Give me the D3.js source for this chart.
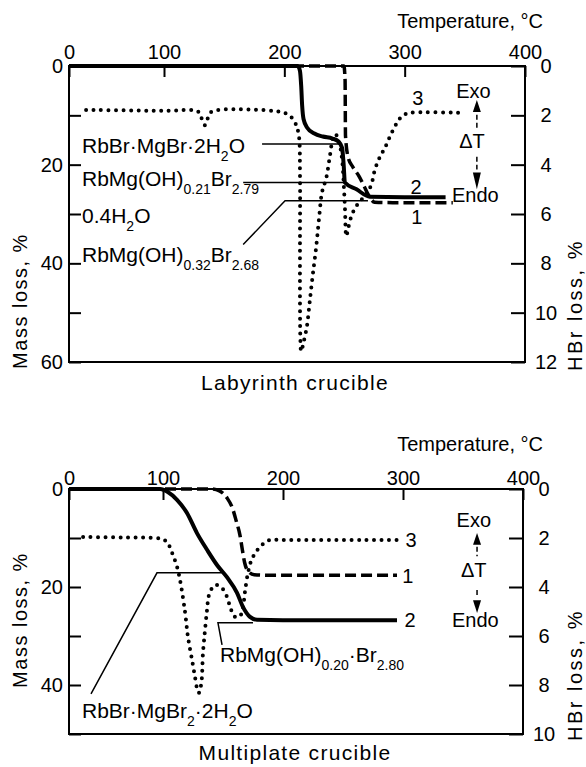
<!DOCTYPE html>
<html>
<head>
<meta charset="utf-8">
<script src="https://cdn.jsdelivr.net/npm/d3@7"></script>
<style>
    body { margin: 0; background: #fff; }
    svg text { font-family: "Liberation Sans", Arial, sans-serif; fill: #000; }
    .frame { fill: none; stroke: #000; stroke-width: 2; }
    .axis path.domain { display: none; }
    .axis line { stroke: #000; stroke-width: 2; }
    .axis text { font-size: 20px; }
    .tg1 { fill: none; stroke: #000; stroke-width: 3.5; stroke-dasharray: 11 5; }
    .tg2 { fill: none; stroke: #000; stroke-width: 4; }
    .dta { fill: none; stroke: #000; stroke-width: 4; stroke-dasharray: 0 7.5; stroke-linecap: round; }
    .leader { fill: none; stroke: #000; stroke-width: 1.5; }
    .arrowdash { stroke: #000; stroke-width: 1.5; stroke-dasharray: 5 3; }
</style>
</head>
<body>
<div class="chart"></div>
<script>
const tempTicks = [0, 100, 200, 300, 400]
const labMassTicks = [0, 10, 20, 30, 40, 50, 60]
const labHbrTicks = [0, 2, 4, 6, 8, 10, 12]
const multiMassTicks = [0, 10, 20, 30, 40, 50]
const multiHbrTicks = [0, 2, 4, 6, 8, 10]

// Labyrinth crucible -- [temperature °C, mass loss %]
const labCurve1 = [[0, 0], [249.5, 0], [250.5, 3], [250.8, 14], [253, 18.5], [257, 20.5], [262, 22.3],
    [266, 24.2], [270, 26.2], [275, 27.6], [290, 27.7], [340, 27.7]]
const labCurve2 = [[0, 0], [211, 0], [213, 1], [214, 4], [214.8, 8], [216, 10.8], [219, 12.5], [225, 13.7],
    [232, 14.3], [240, 14.7], [245, 15.3], [248, 16.6], [249.3, 20], [250.3, 23.6], [260, 25], [271, 26.5],
    [300, 26.6], [334, 26.6]]
// DTA trace, plotted in the same frame (mass loss units)
const labCurve3 = [[18, 8.9], [100, 9.1], [128, 9.2], [131, 10.5], [134, 12], [137, 10.2], [140, 9.2],
    [195, 9.2], [201, 9.6], [205, 10.2], [209, 11.5], [212, 14], [213, 22], [213, 35], [213, 48],
    [213.3, 55], [214, 57.8], [216, 56], [218.8, 52.7], [221, 48], [223.5, 42.6], [226.5, 36.6],
    [229, 30.5], [231.3, 25.6], [235, 22.5], [238, 18], [240.5, 14.5], [242.5, 13.8], [246, 16],
    [248, 19], [249.6, 25], [250.4, 29], [251.5, 34.5], [253, 33], [255, 31], [259, 28.7], [264.5, 27],
    [269.5, 25.5], [272.8, 23.6], [275.3, 21], [279.5, 18.4], [283.6, 16.6], [287.8, 14.3],
    [293.6, 11.5], [298.6, 10], [304.4, 9.5], [346, 9.5]]

// Multiplate crucible
const multiCurve1 = [[0, 0], [140, 0], [147, 0.4], [153.3, 1.8], [158, 4], [161, 6.5], [164.2, 9.5],
    [166.2, 12.5], [168, 15], [171, 16.8], [176, 17.5], [186.7, 17.6], [295, 17.6]]
const multiCurve2 = [[0, 0], [97, 0], [104, 0.6], [111.7, 2.2], [120, 4.9], [128.3, 9], [136.7, 12.4],
    [145, 15.5], [153.3, 18], [161.7, 21.2], [166.7, 24.1], [172.5, 26.1], [178.3, 26.7], [200, 26.8],
    [295, 26.8]]
const multiCurve3 = [[15, 9.8], [60, 9.9], [93.6, 10], [99, 10.2], [103.3, 10.8], [107.5, 13],
    [111.7, 15.9], [114.2, 18.6], [118.3, 25], [120.8, 30.2], [124.2, 34.9], [126.7, 38.4], [128.5, 40.8],
    [130, 41.6], [132, 39.5], [133.3, 33.5], [135, 28.8], [136.7, 24.7], [138.5, 21.5], [143.3, 19.6],
    [149, 20.2], [153.3, 22], [156.5, 24.5], [160, 26.1], [164, 26], [166.7, 24], [168.3, 21],
    [170.5, 17.5], [173, 15], [176.5, 13.2], [182.5, 11.4], [189, 10.4], [200, 10.4], [295.8, 10.4]]

const svg = d3.select('.chart').append("svg")
    .attr("width", 586)
    .attr("height", 767)

// text with subscripts, parts like ["RbMg(OH)", ["0.21"], "Br", ["2.79"]]
function richText(g, px, py, parts, size) {
    const t = g.append("text").attr("x", px).attr("y", py).attr("font-size", size || 21)
    let low = false
    parts.forEach(p => {
        const sub = Array.isArray(p)
        const s = t.append("tspan").text(sub ? p[0] : p)
        if (sub) s.attr("font-size", 14).attr("dy", low ? 0 : 8)
        else s.attr("dy", low ? -8 : 0)
        low = sub
    })
    return t
}

function drawPanel(o) {
    const x = d3.scaleLinear().domain([0, 100, 400]).range(o.xRange)
    const y = d3.scaleLinear().domain([0, o.massMax]).range([o.top, o.bottom])
    const yHbr = d3.scaleLinear().domain([0, o.hbrMax]).range([o.top, o.bottom])
    const left = o.xRange[0], right = o.xRange[2]

    const g = svg.append("g")

    g.append("rect").attr("class", "frame")
        .attr("x", left).attr("y", o.top)
        .attr("width", right - left).attr("height", o.bottom - o.top)

    g.append("g").attr("class", "axis")
        .attr("transform", "translate(0," + o.top + ")")
        .call(d3.axisTop(x).tickValues(tempTicks).tickSize(-11).tickSizeOuter(0).tickPadding(o.topPad))

    g.append("g").attr("class", "axis")
        .attr("transform", "translate(" + left + ",0)")
        .call(d3.axisLeft(y).tickValues(o.massTicks).tickSize(-12).tickSizeOuter(0).tickPadding(6)
            .tickFormat(d => d % 20 === 0 ? d : ""))

    const ra = g.append("g").attr("class", "axis")
        .attr("transform", "translate(" + right + ",0)")
        .call(d3.axisRight(yHbr).tickValues(o.hbrTicks).tickSize(-14).tickSizeOuter(0))
    ra.selectAll("text").attr("x", 21).attr("text-anchor", "middle")

    g.append("text").attr("x", 543).attr("y", o.top - 38).attr("text-anchor", "end")
        .attr("font-size", 20).text("Temperature, °C")

    g.append("text").attr("transform", "translate(27," + o.massLabelY + ") rotate(-90)")
        .attr("text-anchor", "middle").attr("font-size", 20).attr("letter-spacing", 1.5)
        .text("Mass loss, %")
    g.append("text").attr("transform", "translate(582," + o.hbrLabelY + ") rotate(-90)")
        .attr("text-anchor", "middle").attr("font-size", 20).attr("letter-spacing", 2.5)
        .text("HBr loss, %")

    g.append("text").attr("x", 295).attr("y", o.captionY).attr("text-anchor", "middle")
        .attr("font-size", 21).attr("letter-spacing", 1.3).text(o.caption)

    // TG curves have rising temperature, keep them from overshooting the flats
    const tgLine = d3.line()
        .x(d => x(d[0]))
        .y(d => y(d[1]))
        .curve(d3.curveMonotoneX)
    const dtaLine = d3.line()
        .x(d => x(d[0]))
        .y(d => y(d[1]))
        .curve(d3.curveCatmullRom.alpha(0.5))

    g.append("path").datum(o.curve3).attr("class", "dta").attr("d", dtaLine)
    g.append("path").datum(o.curve1).attr("class", "tg1").attr("d", tgLine)
    g.append("path").datum(o.curve2).attr("class", "tg2").attr("d", tgLine)

    // leaders and compound labels
    o.notes.forEach(n => {
        richText(g, x(n.at[0]), y(n.at[1]), n.parts)
        if (n.leader) {
            g.append("path").attr("class", "leader")
                .attr("d", d3.line().x(d => x(d[0])).y(d => y(d[1]))(n.leader))
        }
    })

    // curve numbers
    o.curveLabels.forEach(c => {
        g.append("text").attr("x", x(c.at[0])).attr("y", y(c.at[1]))
            .attr("text-anchor", "middle").attr("font-size", 20).text(c.text)
    })

    // Exo / dT / Endo marker
    const m = o.marker
    const ax = x(m.x)
    g.append("text").attr("x", x(m.exo[0])).attr("y", y(m.exo[1])).attr("text-anchor", "middle")
        .attr("font-size", 20).text("Exo")
    g.append("text").attr("x", x(m.dt[0])).attr("y", y(m.dt[1])).attr("text-anchor", "middle")
        .attr("font-size", 20).text("ΔT")
    g.append("text").attr("x", x(m.endo[0])).attr("y", y(m.endo[1]))
        .attr("font-size", 20).text("Endo")
    g.append("path").attr("d", "M" + ax + "," + y(m.up[0]) + "L" + (ax - 4) + "," + y(m.up[1]) +
        "L" + (ax + 4) + "," + y(m.up[1]) + "Z")
    g.append("path").attr("d", "M" + ax + "," + y(m.down[1]) + "L" + (ax - 4) + "," + y(m.down[0]) +
        "L" + (ax + 4) + "," + y(m.down[0]) + "Z")
    m.dashes.forEach(d => {
        g.append("line").attr("class", "arrowdash")
            .attr("x1", ax).attr("x2", ax).attr("y1", y(d[0])).attr("y2", y(d[1]))
    })
}

drawPanel({
    xRange: [69, 164, 525],
    top: 66, bottom: 362,
    massMax: 60, hbrMax: 12,
    massTicks: labMassTicks, hbrTicks: labHbrTicks,
    topPad: 7,
    massLabelY: 301, hbrLabelY: 305,
    caption: "Labyrinth crucible", captionY: 390,
    curve1: labCurve1, curve2: labCurve2, curve3: labCurve3,
    notes: [
        { parts: ["RbBr·MgBr·2H", ["2"], "O"], at: [13.7, 17.6], leader: [[181.5, 15.8], [246, 15.8]] },
        { parts: ["RbMg(OH)", ["0.21"], "Br", ["2.79"]], at: [13.7, 24.4], leader: [[165.8, 23.6], [250.4, 23.6]] },
        { parts: ["0.4H", ["2"], "O"], at: [13.7, 31.9] },
        { parts: ["RbMg(OH)", ["0.32"], "Br", ["2.68"]], at: [13.7, 39.8],
            leader: [[165.8, 36.2], [200.6, 27.3], [269.5, 27.3]] }
    ],
    curveLabels: [
        { text: "3", at: [311, 7.9] },
        { text: "2", at: [309.4, 25.9] },
        { text: "1", at: [310, 32.1] }
    ],
    marker: {
        x: 360, exo: [357.2, 6.5], dt: [356, 16.6], endo: [339.3, 27.5],
        up: [6.9, 9.3], down: [21.6, 25], dashes: [[9.9, 12.9], [18.4, 21]]
    }
})

drawPanel({
    xRange: [69, 163, 523],
    top: 489, bottom: 734,
    massMax: 50, hbrMax: 10,
    massTicks: multiMassTicks, hbrTicks: multiHbrTicks,
    topPad: 4,
    massLabelY: 620, hbrLabelY: 675,
    caption: "Multiplate crucible", captionY: 760,
    curve1: multiCurve1, curve2: multiCurve2, curve3: multiCurve3,
    notes: [
        { parts: ["RbBr·MgBr", ["2"], "·2H", ["2"], "O"], at: [13.8, 46.7],
            leader: [[23.4, 41.8], [93.6, 17.1], [149, 17.1]] },
        { parts: ["RbMg(OH)", ["0.20"], "·Br", ["2.80"]], at: [147.5, 35.3],
            leader: [[149.2, 31.8], [145.8, 27.3], [175, 27.3]] }
    ],
    curveLabels: [
        { text: "3", at: [306.7, 11.8] },
        { text: "1", at: [304, 19.2] },
        { text: "2", at: [305.8, 28.2] }
    ],
    marker: {
        x: 361.7, exo: [359, 7.8], dt: [359, 18], endo: [340.8, 28.2],
        up: [9, 11.4], down: [22.7, 25.3], dashes: [[11.8, 13.7], [20.6, 22.2]]
    }
})
</script>
</body>
</html>
